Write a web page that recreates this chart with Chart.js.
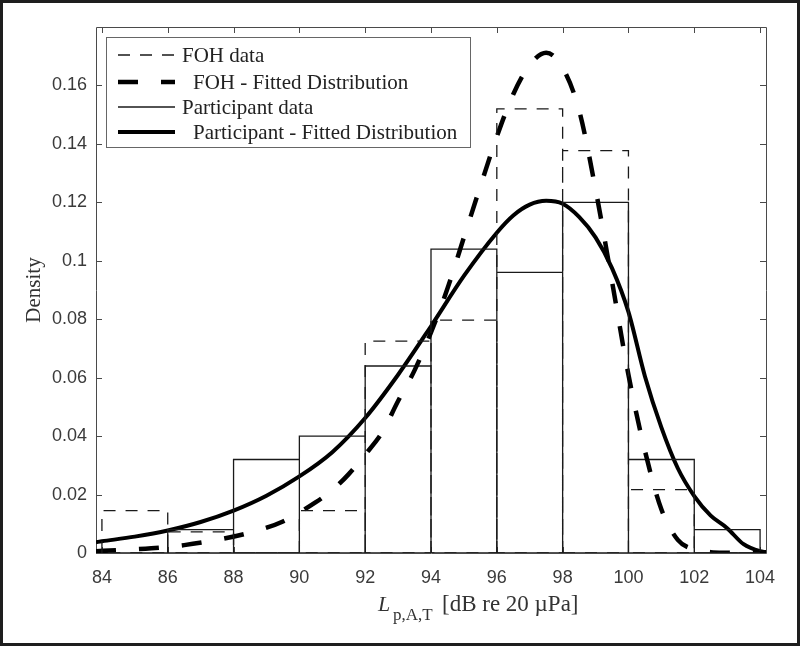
<!DOCTYPE html>
<html><head><meta charset="utf-8">
<script src="https://cdn.jsdelivr.net/npm/chart.js@4.4.1/dist/chart.umd.min.js"></script>
<style>
html,body{margin:0;padding:0;background:#fff;}
#wrap{position:relative;width:800px;height:646px;overflow:hidden;}
#frame{position:absolute;left:0;top:0;width:800px;height:646px;box-sizing:border-box;border:3px solid #1e1e1e;pointer-events:none;}
canvas{position:absolute;left:0;top:0;}
</style></head><body>
<div id="wrap"><canvas id="c" width="800" height="646"></canvas><div id="frame"></div></div>
<script>
// ---- data ----
const binEdges = [84, 86, 88, 90, 92, 94, 96, 98, 100, 102, 104];
const fohDensity = [0.0145, 0.0072, 0, 0.0145, 0.0725, 0.0797, 0.152, 0.1377, 0.0217, 0];
const participantDensity = [0, 0.008, 0.032, 0.040, 0.064, 0.104, 0.096, 0.120, 0.032, 0.008];

const fohFitX = [83.82, 84.5, 85.5, 86.5, 87.5, 88.5, 89.5, 90.5, 91, 91.5, 92, 92.5, 93, 93.5, 94, 94.5, 95, 95.5, 96, 96.5, 97, 97.5, 98, 98.5, 99, 99.5, 100, 100.5, 101, 101.5, 102, 102.5, 103, 104, 104.18];
const fohFitY = [0.0006, 0.0010, 0.0016, 0.0027, 0.0045, 0.0070, 0.0108, 0.0174, 0.0215, 0.0270, 0.0337, 0.0410, 0.0520, 0.0625, 0.0755, 0.0905, 0.1080, 0.1255, 0.1425, 0.1570, 0.1670, 0.1712, 0.1660, 0.1515, 0.1245, 0.0930, 0.0610, 0.0350, 0.0150, 0.0045, 0.0012, 0.0003, 0.0001, 0, 0];

const partFitX = [83.82, 84, 85, 86, 87, 88, 89, 90, 91, 92, 93, 94, 95, 96, 96.5, 97, 97.5, 98, 98.5, 99, 99.5, 100, 100.5, 101, 101.5, 102, 102.5, 103, 103.5, 104, 104.18];
const partFitY = [0.0037, 0.0040, 0.0056, 0.0077, 0.0106, 0.0145, 0.0196, 0.0262, 0.0345, 0.0462, 0.0610, 0.0776, 0.0948, 0.1096, 0.1155, 0.1192, 0.1205, 0.1195, 0.1150, 0.1080, 0.0975, 0.0825, 0.0605, 0.0430, 0.0290, 0.0195, 0.0128, 0.0085, 0.0030, 0.0006, 0.0003];

const xTicks = [84, 86, 88, 90, 92, 94, 96, 98, 100, 102, 104];
const yTicks = [0, 0.02, 0.04, 0.06, 0.08, 0.1, 0.12, 0.14, 0.16];
const xLimits = [83.82, 104.18];
const yLimits = [0, 0.18];
const seriesLabels = ['FOH data', 'FOH - Fitted Distribution', 'Participant data', 'Participant - Fitted Distribution'];
const yTitle = 'Density';
const xTitleMain = 'L';
const xTitleSub = 'p,A,T';
const xTitleUnit = '[dB re 20 \u00B5Pa]';

// ---- build library tables ----
function histOutline(vals) {
  const pts = [];
  for (let i = 0; i < vals.length; i++) {
    const a = binEdges[i], b = binEdges[i + 1], h = vals[i];
    pts.push({x: a, y: 0}, {x: a, y: h}, {x: b, y: h}, {x: b, y: 0}, {x: a, y: 0}, {x: b, y: null});
  }
  return pts;
}
const zip = (xs, ys) => xs.map((x, i) => ({x: x, y: ys[i]}));

const SERIF = '"Liberation Serif", "Times New Roman", serif';
const SANS = '"Liberation Sans", Arial, sans-serif';

const boxTicks = {
  id: 'boxTicks',
  beforeDatasetsDraw(chart) {
    const {ctx, chartArea: a, scales: {x, y}} = chart;
    ctx.save();
    ctx.strokeStyle = '#4a4a4a';
    ctx.lineWidth = 1;
    ctx.beginPath();
    ctx.rect(Math.round(a.left) + 0.5, Math.round(a.top) + 0.5, Math.round(a.right - a.left), Math.round(a.bottom - a.top));
    const L = 6;
    xTicks.forEach(v => {
      const px = Math.round(x.getPixelForValue(v)) + 0.5;
      ctx.moveTo(px, a.bottom); ctx.lineTo(px, a.bottom - L);
      ctx.moveTo(px, a.top); ctx.lineTo(px, a.top + L);
    });
    yTicks.forEach(v => {
      const py = Math.round(y.getPixelForValue(v)) + 0.5;
      ctx.moveTo(a.left, py); ctx.lineTo(a.left + L, py);
      ctx.moveTo(a.right, py); ctx.lineTo(a.right - L, py);
    });
    ctx.stroke();
    ctx.restore();
  },
  afterDraw(chart) {
    const {ctx} = chart;
    ctx.save();
    // x-axis title with subscript
    ctx.fillStyle = '#333';
    ctx.textBaseline = 'alphabetic';
    ctx.textAlign = 'left';
    ctx.font = 'italic 22px ' + SERIF;
    ctx.fillText(xTitleMain, 378, 611);
    ctx.font = '17px ' + SERIF;
    ctx.fillText(xTitleSub, 393, 620);
    ctx.font = '23px ' + SERIF;
    ctx.fillText(xTitleUnit, 442, 611);

    // legend
    const bx = 106.5, by = 37.5, bw = 364, bh = 110;
    ctx.fillStyle = '#fff';
    ctx.fillRect(bx, by, bw, bh);
    ctx.strokeStyle = '#666';
    ctx.lineWidth = 1;
    ctx.strokeRect(bx, by, bw, bh);
    const rowsY = [55, 82, 107, 132];
    chart.data.datasets.forEach((ds, i) => {
      const yy = rowsY[i];
      ctx.save();
      ctx.strokeStyle = ds.borderColor;
      ctx.lineWidth = ds.borderWidth;
      ctx.lineCap = 'butt';
      ctx.setLineDash(ds.borderDash || []);
      ctx.beginPath();
      ctx.moveTo(118, yy); ctx.lineTo(175, yy);
      ctx.stroke();
      ctx.restore();
      ctx.fillStyle = '#222';
      ctx.font = '21px ' + SERIF;
      ctx.textBaseline = 'middle';
      ctx.fillText(ds.label, ds.borderWidth > 2 ? 193 : 182, yy + 1);
    });
    ctx.restore();
  }
};

new Chart(document.getElementById('c'), {
  type: 'line',
  data: {
    datasets: [
      {label: seriesLabels[0], data: histOutline(fohDensity), borderColor: '#1a1a1a', borderWidth: 1.3, borderDash: [12, 10], tension: 0, spanGaps: false},
      {label: seriesLabels[1], data: zip(fohFitX, fohFitY), borderColor: '#000', borderWidth: 4.5, borderDash: [20, 23], cubicInterpolationMode: 'monotone'},
      {label: seriesLabels[2], data: histOutline(participantDensity), borderColor: '#1a1a1a', borderWidth: 1.3, tension: 0, spanGaps: false},
      {label: seriesLabels[3], data: zip(partFitX, partFitY), borderColor: '#000', borderWidth: 4, cubicInterpolationMode: 'monotone'}
    ]
  },
  options: {
    responsive: false,
    animation: false,
    devicePixelRatio: 1,
    layout: {padding: {left: 0, top: 27, right: 34, bottom: 0}},
    elements: {point: {radius: 0, hoverRadius: 0}, line: {fill: false}},
    plugins: {legend: {display: false}, tooltip: {enabled: false}},
    scales: {
      x: {
        type: 'linear', min: xLimits[0], max: xLimits[1],
        afterBuildTicks: s => { s.ticks = xTicks.map(v => ({value: v})); },
        afterFit: s => { s.height = 93; },
        grid: {display: false, drawTicks: false},
        border: {display: false},
        ticks: {padding: 14, autoSkip: false, maxRotation: 0, color: '#3a3a3a', font: {family: SANS, size: 18}}
      },
      y: {
        type: 'linear', min: yLimits[0], max: yLimits[1],
        afterBuildTicks: s => { s.ticks = yTicks.map(v => ({value: v})); },
        afterFit: s => { s.width = 96; },
        grid: {display: false, drawTicks: false},
        border: {display: false},
        ticks: {padding: 9, color: '#3a3a3a', font: {family: SANS, size: 18}, callback: v => String(+v.toFixed(2))},
        title: {display: true, text: yTitle, color: '#333', font: {family: SERIF, size: 21}, padding: {top: 22, bottom: 0}}
      }
    }
  },
  plugins: [boxTicks]
});
</script>
</body></html>
